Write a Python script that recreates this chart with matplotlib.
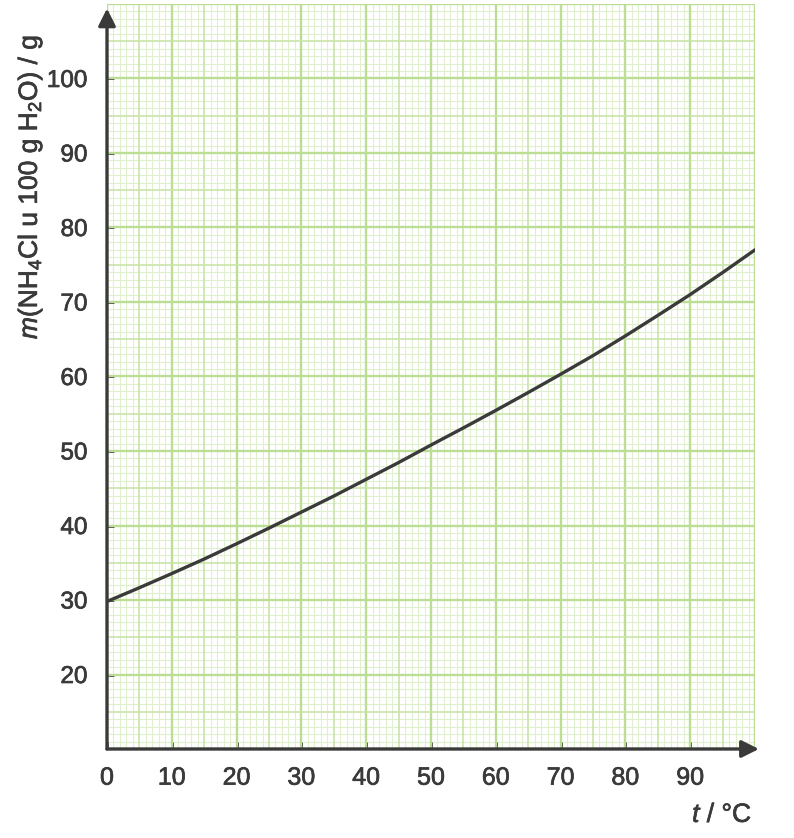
import numpy as np
import matplotlib.pyplot as plt
import matplotlib.patheffects as pe

# solubility of NH4Cl (every 5 degC)
temp_c = [0, 5, 10, 15, 20, 25, 30, 35, 40, 45, 50,
          55, 60, 65, 70, 75, 80, 85, 90, 95, 100]
mass_g = [29.8, 31.65, 33.55, 35.5, 37.55, 39.65, 41.8, 43.95, 46.2, 48.45, 50.8,
          53.1, 55.45, 57.85, 60.3, 62.8, 65.45, 68.2, 71.0, 73.95, 77.0]

x_ticks = [0, 10, 20, 30, 40, 50, 60, 70, 80, 90]
y_ticks = [20, 30, 40, 50, 60, 70, 80, 90, 100]

DARK = '#3a3a3a'
heavy = [pe.withStroke(linewidth=0.5, foreground=DARK)]

plt.rcParams['font.family'] = ['Liberation Sans', 'DejaVu Sans']
plt.rcParams['mathtext.fontset'] = 'custom'
plt.rcParams['mathtext.rm'] = 'Liberation Sans'
plt.rcParams['mathtext.it'] = 'Liberation Sans:italic'

fig = plt.figure(figsize=(7.94, 8.38), dpi=100)
ax = fig.add_axes([107 / 794, 89 / 838, 648 / 794, 745 / 838])
ax.set_xlim(0, 100)
ax.set_ylim(10, 110)

# graph paper: 1 / 5 / 10 unit lines
def paper_style(v):
    if v % 10 == 0:
        return '#bcdd94', 1.7, 2
    if v % 5 == 0:
        return '#c9e4a8', 1.2, 2
    return '#e0f0cf', 0.8, 1

for v in range(0, 101):
    c, w, z = paper_style(v)
    ax.axvline(v, color=c, lw=w, zorder=z)
for v in range(10, 111):
    c, w, z = paper_style(v)
    ax.axhline(v, color=c, lw=w, zorder=z)

ax.plot(temp_c, mass_g, color=DARK, lw=2.4, zorder=5, solid_capstyle='round')

for s in ax.spines.values():
    s.set_visible(False)

# axes with arrow heads
ax.annotate('', xy=(0, 109.4), xytext=(0, 10), annotation_clip=False,
            arrowprops=dict(arrowstyle='-|>', color=DARK, lw=2.4,
                            mutation_scale=26, shrinkA=0, shrinkB=0), zorder=6)
ax.annotate('', xy=(100.6, 10), xytext=(0, 10), annotation_clip=False,
            arrowprops=dict(arrowstyle='-|>', color=DARK, lw=2.4,
                            mutation_scale=26, shrinkA=0, shrinkB=0), zorder=6)

ax.set_xticks(x_ticks)
ax.set_yticks(y_ticks)
ax.tick_params(direction='in', length=5, width=2, color=DARK,
               labelsize=18, labelcolor=DARK)
ax.tick_params(axis='y', labelsize=17.5, pad=14)
ax.tick_params(axis='x', pad=12)
for lab in ax.get_xticklabels() + ax.get_yticklabels():
    lab.set_path_effects(heavy)

fig.text(30 / 794, 1 - 187 / 838, r'$m$(NH$_4$Cl u 100 g H$_2$O) / g',
         rotation=90, ha='center', va='center', fontsize=19, color=DARK,
         path_effects=heavy)
fig.text(752 / 794, 1 - 815 / 838, r'$t$ / °C', ha='right', va='center',
         fontsize=19, color=DARK, path_effects=heavy)

fig.savefig('out.png', dpi=100)
